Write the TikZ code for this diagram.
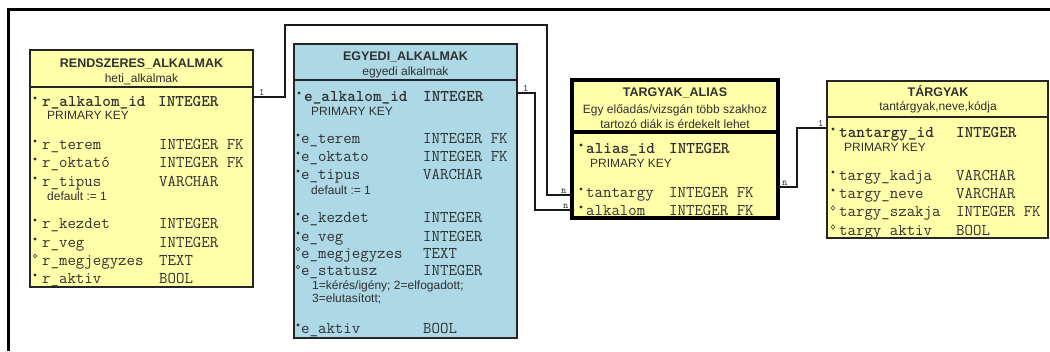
\documentclass[tikz,border=0pt]{standalone}
\usepackage{fontspec}
\setmainfont{Liberation Sans}
\definecolor{tyellow}{HTML}{FFFFAA}
\definecolor{tblue}{HTML}{ADD8E6}
\definecolor{ink}{HTML}{303030}
\tikzset{
  tbl/.style={draw=black!85, line width=1.6pt, anchor=north west, inner sep=0pt, outer sep=0pt},
  ttitle/.style={font=\fontsize{12.5}{14}\selectfont\bfseries, text=ink, anchor=base, inner sep=0pt},
  tsub/.style={font=\fontsize{12}{14}\selectfont, text=ink, anchor=base, inner sep=0pt},
  fld/.style={font=\ttfamily\fontsize{16.4}{18}\selectfont, text=ink, anchor=base west, inner sep=0pt},
  pkf/.style={font=\ttfamily\bfseries\fontsize{16.4}{18}\selectfont, text=ink, anchor=base west, inner sep=0pt},
  note/.style={font=\fontsize{12}{13}\selectfont, text=ink, anchor=base west, inner sep=0pt},
  card/.style={font=\ttfamily\fontsize{10}{11}\selectfont, text=ink, anchor=base west, inner sep=0pt},
  conn/.style={draw=black!90, line width=1.4pt},
  divider/.style={draw=black!85, line width=1.6pt},
}
\newcommand\reqmark[2]{\fill[ink] (#1,#2) circle (1.6pt);}
\newcommand\optmark[2]{\draw[ink, line width=0.5pt] (#1,#2) circle (1.7pt);}
\newcommand\diamark[2]{\draw[ink, line width=0.5pt] (#1,#2-2.4) -- (#1+1.8,#2) -- (#1,#2+2.4) -- (#1-1.8,#2) -- cycle;}
\begin{document}
\begin{tikzpicture}[x=1pt, y=-1pt]
\useasboundingbox (0,0) rectangle (1050,351);
\fill[white] (0,0) rectangle (1050,351);
% frame
\draw[line width=3pt, black] (8,351) -- (8,9) -- (1050,9);

% ---------- RENDSZERES_ALKALMAK ----------
\node[tbl, fill=tyellow, minimum width=223pt, minimum height=237pt] (rend) at (30,50) {};
\draw[divider] (30,87) -- (253,87);
\node[ttitle] (rendT) at (141.5,67) {RENDSZERES\_ALKALMAK};
\node[tsub] (rendS) at (141.5,82) {heti\_alkalmak};
\reqmark{35}{98}
\node[pkf] (r1n) at (42,106) {r\_alkalom\_id};
\node[pkf] (r1t) at (158,106) {INTEGER};
\node[note] (r1k) at (47,119) {PRIMARY KEY};
\reqmark{35}{141}
\node[fld] (r2n) at (42,149) {r\_terem};
\node[fld] (r2t) at (159,149) {INTEGER FK};
\reqmark{35}{159}
\node[fld] (r3n) at (42,167) {r\_oktató};
\node[fld] (r3t) at (159,167) {INTEGER FK};
\reqmark{35}{178}
\node[fld] (r4n) at (42,186) {r\_tipus};
\node[fld] (r4t) at (159,186) {VARCHAR};
\node[note] (r4k) at (47,200) {default := 1};
\reqmark{35}{220}
\node[fld] (r5n) at (42,228) {r\_kezdet};
\node[fld] (r5t) at (159,228) {INTEGER};
\reqmark{35}{239}
\node[fld] (r6n) at (42,247) {r\_veg};
\node[fld] (r6t) at (159,247) {INTEGER};
\optmark{35}{256}
\node[fld] (r7n) at (42,265) {r\_megjegyzes};
\node[fld] (r7t) at (159,265) {TEXT};
\reqmark{35}{275}
\node[fld] (r8n) at (42,283) {r\_aktiv};
\node[fld] (r8t) at (159,283) {BOOL};

% ---------- EGYEDI_ALKALMAK ----------
\node[tbl, fill=tblue, minimum width=223pt, minimum height=294pt] (egy) at (294,44) {};
\draw[divider] (294,80) -- (517,80);
\node[ttitle] (egyT) at (405.5,60) {EGYEDI\_ALKALMAK};
\node[tsub] (egyS) at (405.5,75) {egyedi alkalmak};
\reqmark{299}{93}
\node[pkf] (e1n) at (304,101) {e\_alkalom\_id};
\node[pkf] (e1t) at (423,101) {INTEGER};
\node[note] (e1k) at (311,115) {PRIMARY KEY};
\reqmark{298}{135}
\node[fld] (e2n) at (301,143) {e\_terem};
\node[fld] (e2t) at (423,143) {INTEGER FK};
\reqmark{298}{153}
\node[fld] (e3n) at (301,161) {e\_oktato};
\node[fld] (e3t) at (423,161) {INTEGER FK};
\reqmark{298}{171}
\node[fld] (e4n) at (301,179) {e\_tipus};
\node[fld] (e4t) at (423,179) {VARCHAR};
\node[note] (e4k) at (311,194) {default := 1};
\reqmark{298}{214}
\node[fld] (e5n) at (301,222) {e\_kezdet};
\node[fld] (e5t) at (423,222) {INTEGER};
\reqmark{298}{233}
\node[fld] (e6n) at (301,241) {e\_veg};
\node[fld] (e6t) at (423,241) {INTEGER};
\optmark{298}{249}
\node[fld] (e7n) at (301,258) {e\_megjegyzes};
\node[fld] (e7t) at (423,258) {TEXT};
\optmark{298}{267}
\node[fld] (e8n) at (301,275) {e\_statusz};
\node[fld] (e8t) at (423,275) {INTEGER};
\node[note] (e8k) at (312,289) {1=kérés/igény; 2=elfogadott;};
\node[note] (e8l) at (312,302) {3=elutasított;};
\reqmark{298}{325}
\node[fld] (e9n) at (301,333) {e\_aktiv};
\node[fld] (e9t) at (423,333) {BOOL};

% ---------- TARGYAK_ALIAS ----------
\node[tbl, fill=tyellow, line width=3.5pt, draw=black, minimum width=206pt, minimum height=138pt] (alias) at (572,80) {};
\draw[line width=3.5pt, black] (572,132) -- (778,132);
\node[ttitle] (aliasT) at (675,96) {TARGYAK\_ALIAS};
\node[tsub] (aliasS) at (675,113) {Egy előadás/vizsgán több szakhoz};
\node[tsub] (aliasS2) at (675,128) {tartozó diák is érdekelt lehet};
\reqmark{581}{145}
\node[pkf] (a1n) at (586,153) {alias\_id};
\node[pkf] (a1t) at (669,153) {INTEGER};
\node[note] (a1k) at (590,167) {PRIMARY KEY};
\reqmark{581}{189}
\node[fld] (a2n) at (586,197) {tantargy};
\node[fld] (a2t) at (669,197) {INTEGER FK};
\reqmark{581}{207}
\node[fld] (a3n) at (586,215) {alkalom};
\node[fld] (a3t) at (669,215) {INTEGER FK};

% ---------- TARGYAK ----------
\node[tbl, fill=tyellow, minimum width=221pt, minimum height=157pt] (targ) at (827,81) {};
\draw[divider] (827,117) -- (1048,117);
\node[ttitle] (targT) at (938,96) {TÁRGYAK};
\node[tsub] (targS) at (938,110) {tantárgyak,neve,kódja};
\reqmark{833}{129}
\node[pkf] (t1n) at (839,137) {tantargy\_id};
\node[pkf] (t1t) at (956,137) {INTEGER};
\node[note] (t1k) at (844,151) {PRIMARY KEY};
\reqmark{833}{172}
\node[fld] (t2n) at (839,180) {targy\_kadja};
\node[fld] (t2t) at (956,180) {VARCHAR};
\reqmark{833}{190}
\node[fld] (t3n) at (839,198) {targy\_neve};
\node[fld] (t3t) at (956,198) {VARCHAR};
\diamark{833}{208}
\node[fld] (t4n) at (839,216) {targy\_szakja};
\node[fld] (t4t) at (956,216) {INTEGER FK};
\diamark{833}{227}
\node[fld] (t5n) at (839,235) {targy\_aktiv};
\node[fld] (t5t) at (956,235) {BOOL};

% ---------- connectors ----------
\path (rend.north east) ++(0,47) coordinate (c1a);
\path (alias.north west) ++(0,115) coordinate (c1b);
\path (egy.north east) ++(0,49) coordinate (c2a);
\path (alias.north west) ++(0,130) coordinate (c2b);
\path (alias.north east) ++(0,107) coordinate (c3a);
\path (targ.north west) ++(0,47) coordinate (c3b);
\draw[conn] (c1a) -| (285,25) -| (547,195) -- (c1b);
\draw[conn] (c2a) -| (535,210) -- (c2b);
\draw[conn] (c3a) -| (797,128) -- (c3b);
\node[card] (l1a) at (259,95) {1};
\node[card] (l1b) at (561,193) {n};
\node[card] (l2a) at (523,91) {1};
\node[card] (l2b) at (563,208) {n};
\node[card] (l3a) at (782,185) {n};
\node[card] (l3b) at (818,126) {1};
\end{tikzpicture}
\end{document}
